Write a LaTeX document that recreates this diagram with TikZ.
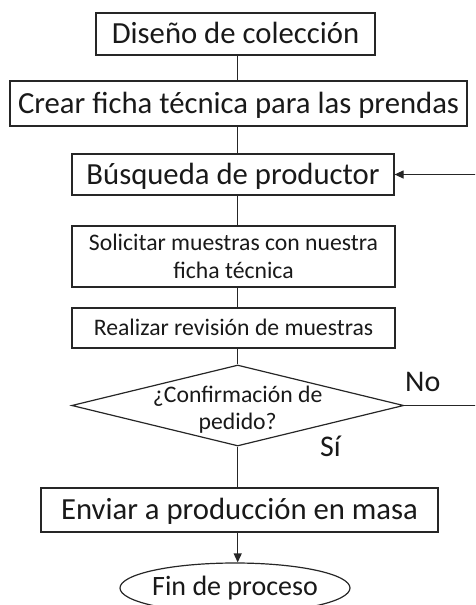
\documentclass[tikz,border=0pt]{standalone}
\usepackage{fontspec}
\setmainfont{Carlito}
\usetikzlibrary{shapes.geometric,arrows.meta,calc}
\begin{document}
\begin{tikzpicture}[x=1pt,y=-1pt,
  every node/.style={inner sep=0pt, text=black!90},
  bigbox/.style={draw=black!85, line width=1.2pt, rectangle,
    font=\fontsize{30.7pt}{36pt}\selectfont, text height=22.8pt, text depth=3.1pt},
  smallbox/.style={draw=black!85, line width=1.2pt, rectangle, align=center,
    font=\fontsize{23.7pt}{28pt}\selectfont},
  conn/.style={draw=black!85, line width=1.2pt},
  arr/.style={conn, -{Triangle[length=9pt,width=8pt]}},
  lbl/.style={font=\fontsize{30pt}{36pt}\selectfont}]
\useasboundingbox (0,0) rectangle (475,605);
\clip (0,0) rectangle (475,605);
\coordinate (spine) at (237.7,0);
\coordinate (loopx) at (480,0);

\node[bigbox, minimum width=279pt, minimum height=42pt] (b1) at (235.5,34) {Diseño de colección};
\node[bigbox, minimum width=457pt, minimum height=45pt] (b2) at (238.5,103.5) {Crear ficha técnica para las prendas};
\node[bigbox, minimum width=322pt, minimum height=41pt] (b3) at (233,174.5) {Búsqueda de productor};
\node[smallbox, minimum width=323pt, minimum height=61pt] (b4) at (233.5,256.5) {Solicitar muestras con nuestra\\ficha técnica};
\node[smallbox, minimum width=323pt, minimum height=40pt, text height=17.6pt, text depth=2.4pt] (b5) at (233.5,328) {Realizar revisión de muestras};
\node[diamond, draw=black!85, line width=1.2pt, minimum width=332pt, minimum height=81pt,
  label={[align=center, font=\fontsize{23.7pt}{26.5pt}\selectfont, text=black!90, yshift=-4pt]center:¿Confirmación de\\pedido?}] (d) at (237.7,405.5) {};
\node[bigbox, minimum width=397pt, minimum height=44pt] (b6) at (239.5,510) {Enviar a producción en masa};
\node[ellipse, draw=black!85, line width=1.2pt, minimum width=230pt, minimum height=50pt,
  font=\fontsize{28pt}{33pt}\selectfont] (e) at (235,588) {\makebox[0pt]{Fin de proceso}};

\node[lbl, anchor=base west] (no) at (405,391) {No};
\node[lbl, anchor=base west] (si) at (320,456) {Sí};

\draw[conn] (b1.south -| spine) -- (b2.north -| spine);
\draw[conn] (b2.south -| spine) -- (b3.north -| spine);
\draw[conn] (b3.south -| spine) -- (b4.north -| spine);
\draw[conn] (b4.south -| spine) -- (b5.north -| spine);
\draw[conn] (b5.south -| spine) -- (d.north);
\draw[conn] (d.south) -- (b6.north -| spine);
\draw[arr] (b6.south -| spine) -- (e.north -| spine);
\draw[arr] (d.east) -- (d.east -| loopx) -- (b3.east -| loopx) -- (b3.east);
\end{tikzpicture}
\end{document}
